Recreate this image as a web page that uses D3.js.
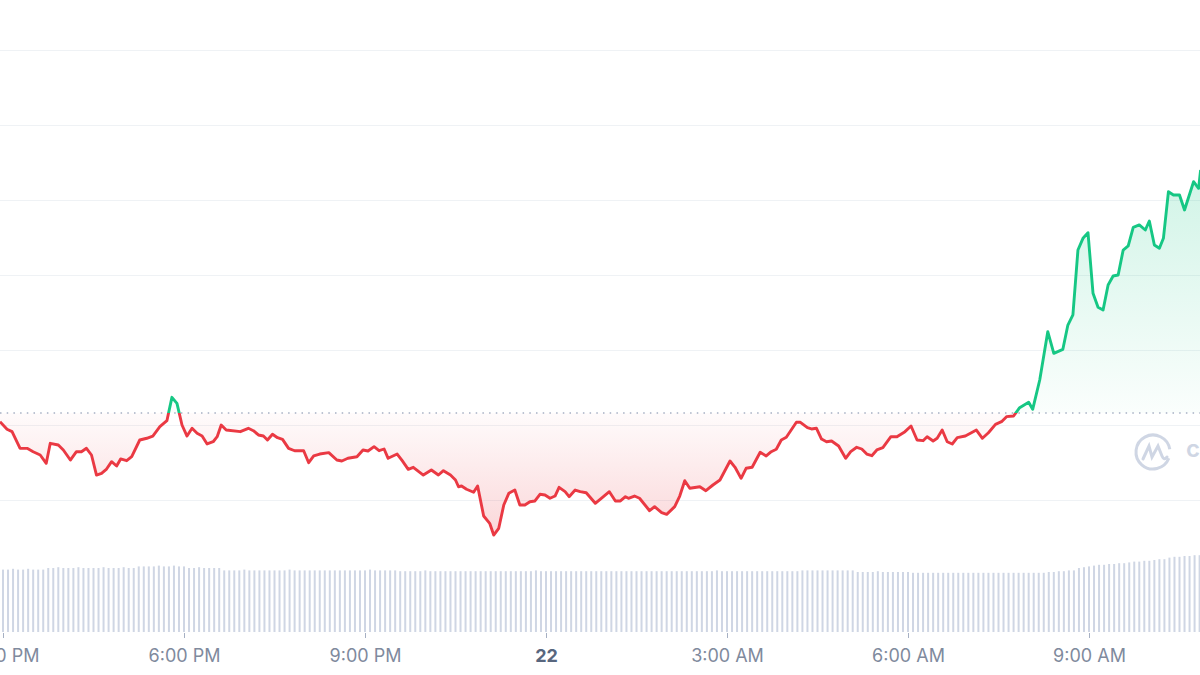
<!DOCTYPE html>
<html>
<head>
<meta charset="utf-8">
<script src="https://cdn.jsdelivr.net/npm/d3@7"></script>
<style>
  body { margin: 0; background: #fff; }
  svg { display: block; font-family: Inter, "Noto Sans", sans-serif; }
</style>
</head>
<body>
<script>
// Minutes after 3:00 PM on the 21st, and the price at that moment
var priceMinutes = [-3, 4, 9, 17, 24, 30, 37, 43, 47, 55, 60, 67, 73, 78, 83, 88, 93, 98, 103, 108,
  113, 117, 123, 128, 136, 143, 149, 156, 163, 168, 173, 178, 183, 188, 193, 198, 203, 209, 213, 217,
  222, 236, 244, 249, 254, 259, 263, 268, 273, 278, 284, 290, 299, 304, 309, 315, 324, 332, 337, 343,
  352, 358, 363, 369, 374, 379, 383, 392, 397, 403, 408, 418, 426, 433, 438, 445, 450, 453, 456, 461,
  468, 472, 478, 484, 488, 493, 498, 503, 509, 514, 519, 524, 529, 534, 539, 544, 549, 553, 559, 563,
  569, 574, 580, 589, 595, 603, 609, 614, 619, 622, 628, 633, 643, 648, 655, 660, 668, 673, 678, 683,
  693, 699, 706, 713, 723, 728, 734, 739, 745, 753, 759, 764, 769, 774, 779, 789, 793, 800, 804, 809,
  814, 819, 824, 831, 838, 843, 849, 854, 859, 864, 869, 875, 883, 889, 897, 903, 909, 915, 919, 925,
  929, 934, 939, 944, 949, 957, 963, 968, 974, 980, 987, 993, 998, 1005, 1011, 1020, 1024, 1031, 1039, 1045,
  1054, 1059, 1064, 1069, 1074, 1079, 1084, 1089, 1094, 1099, 1104, 1109, 1114, 1119, 1124, 1130, 1136, 1140, 1145, 1150,
  1154, 1159, 1164, 1170, 1175, 1184, 1189, 1191];

var prices = [101.044, 100.943, 100.911, 100.689, 100.689, 100.644, 100.600, 100.489, 100.756, 100.733,
  100.667, 100.533, 100.644, 100.644, 100.689, 100.600, 100.333, 100.356, 100.413, 100.511,
  100.453, 100.547, 100.524, 100.577, 100.800, 100.823, 100.853, 100.977, 101.057, 101.369,
  101.289, 101.000, 100.853, 100.956, 100.889, 100.853, 100.747, 100.777, 100.844, 101.000,
  100.933, 100.911, 100.956, 100.924, 100.867, 100.853, 100.800, 100.876, 100.831, 100.809,
  100.689, 100.657, 100.657, 100.497, 100.587, 100.613, 100.631, 100.533, 100.520, 100.556,
  100.577, 100.667, 100.653, 100.711, 100.657, 100.680, 100.556, 100.613, 100.524, 100.409,
  100.436, 100.333, 100.400, 100.333, 100.391, 100.333, 100.267, 100.177, 100.187, 100.143,
  100.103, 100.187, 99.787, 99.689, 99.533, 99.623, 99.933, 100.089, 100.133, 99.933,
  99.933, 99.977, 99.987, 100.076, 100.067, 100.023, 100.053, 100.169, 100.111, 100.044,
  100.133, 100.111, 100.097, 99.956, 100.023, 100.111, 99.987, 99.987, 100.044, 100.023,
  100.053, 100.023, 99.857, 99.911, 99.831, 99.809, 99.911, 100.053, 100.257, 100.156,
  100.177, 100.124, 100.200, 100.267, 100.520, 100.436, 100.289, 100.423, 100.436, 100.636,
  100.587, 100.644, 100.676, 100.800, 100.836, 101.036, 101.036, 100.964, 100.947, 100.956,
  100.813, 100.777, 100.787, 100.720, 100.556, 100.644, 100.703, 100.680, 100.613, 100.591,
  100.667, 100.697, 100.844, 100.844, 100.911, 100.987, 100.800, 100.791, 100.844, 100.787,
  100.823, 100.933, 100.777, 100.747, 100.831, 100.853, 100.897, 100.933, 100.823, 100.897,
  101.009, 101.044, 101.111, 101.120, 101.231, 101.303, 101.209, 101.600, 102.244, 101.956,
  102.009, 102.333, 102.467, 103.333, 103.489, 103.564, 102.756, 102.569, 102.533, 102.867,
  102.987, 103.000, 103.333, 103.387, 103.636, 103.667, 103.600, 103.720, 103.400, 103.356,
  103.489, 104.111, 104.067, 104.067, 103.867, 104.244, 104.156, 104.400];

// opening price, drawn as the dotted reference line
var openPrice = 101.16;

// volume, one bar per 5 minutes from 3:00 PM
var volumeStep = 5;
var volumes = [78, 78, 79, 78, 78, 79, 78, 78, 78, 80,
  80, 81, 80, 80, 80, 81, 80, 80, 80, 80,
  81, 80, 80, 80, 81, 80, 80, 82, 82, 82,
  82, 83, 82, 82, 83, 82, 82, 80, 80, 81,
  80, 80, 80, 80, 77, 77, 77, 77, 78, 77,
  77, 77, 77, 77, 77, 77, 77, 78, 77, 77,
  77, 77, 77, 77, 77, 77, 77, 77, 77, 77,
  77, 77, 77, 78, 77, 77, 77, 77, 77, 76,
  76, 76, 76, 76, 77, 76, 76, 76, 76, 76,
  76, 76, 76, 76, 76, 76, 76, 76, 76, 76,
  76, 76, 76, 76, 76, 76, 77, 76, 76, 76,
  76, 76, 76, 76, 76, 76, 76, 76, 76, 76,
  76, 76, 76, 76, 76, 76, 76, 76, 76, 76,
  76, 76, 76, 76, 76, 76, 76, 76, 76, 76,
  76, 76, 77, 76, 76, 76, 76, 76, 76, 76,
  76, 76, 76, 76, 76, 76, 76, 76, 76, 77,
  77, 77, 77, 77, 77, 77, 77, 77, 77, 77,
  75, 75, 75, 75, 76, 75, 75, 75, 75, 75,
  75, 74, 74, 74, 74, 74, 74, 74, 74, 74,
  74, 74, 74, 74, 74, 74, 74, 74, 74, 74,
  74, 74, 74, 74, 74, 74, 74, 74, 75, 75,
  76, 76, 77, 77, 80, 81, 82, 83, 84, 84,
  85, 85, 86, 86, 87, 88, 88, 89, 89, 90,
  91, 91, 93, 94, 94, 95, 95, 96, 96];

var gridValues = [100, 101, 102, 103, 104, 105, 106];
var tickHours = [15, 18, 21, 24, 27, 30, 33];

var width = 1200, height = 675;
var startTime = new Date(2023, 5, 21, 15, 0);
function atMinute(m) { return new Date(startTime.getTime() + m * 60000); }

var red = "#ea3943", green = "#16c784";

var svg = d3.select("body").append("svg")
  .attr("width", width)
  .attr("height", height);

var x = d3.scaleTime()
  .domain([startTime, atMinute(18 * 60)])
  .range([3, 1089]);

var y = d3.scaleLinear()
  .domain([100, 106])
  .range([500, 50]);

var yVol = d3.scaleLinear()
  .domain([0, 100])
  .range([632, 552]);

var data = priceMinutes.map(function(m, i) {
  return { t: atMinute(m), p: prices[i] };
});
var volData = volumes.map(function(v, i) {
  return { t: atMinute(i * volumeStep), v: v };
});

var yBase = y(openPrice);

// defs: gradients and clips for above / below open price
var defs = svg.append("defs");

var gGreen = defs.append("linearGradient").attr("id", "gradGreen")
  .attr("gradientUnits", "userSpaceOnUse")
  .attr("x1", 0).attr("x2", 0).attr("y1", yBase).attr("y2", y(104.4));
gGreen.append("stop").attr("offset", 0).attr("stop-color", green).attr("stop-opacity", 0.02);
gGreen.append("stop").attr("offset", 1).attr("stop-color", green).attr("stop-opacity", 0.2);

var gRed = defs.append("linearGradient").attr("id", "gradRed")
  .attr("gradientUnits", "userSpaceOnUse")
  .attr("x1", 0).attr("x2", 0).attr("y1", yBase).attr("y2", y(99.53));
gRed.append("stop").attr("offset", 0).attr("stop-color", red).attr("stop-opacity", 0.02);
gRed.append("stop").attr("offset", 1).attr("stop-color", red).attr("stop-opacity", 0.2);

defs.append("clipPath").attr("id", "clipAbove")
  .append("rect").attr("x", 0).attr("y", 0).attr("width", width).attr("height", yBase);
defs.append("clipPath").attr("id", "clipBelow")
  .append("rect").attr("x", 0).attr("y", yBase).attr("width", width).attr("height", height - yBase);

// horizontal gridlines
svg.append("g")
  .selectAll("line")
  .data(gridValues)
  .enter()
  .append("line")
  .attr("x1", 0).attr("x2", width)
  .attr("y1", d => Math.round(y(d)) + 0.5)
  .attr("y2", d => Math.round(y(d)) + 0.5)
  .attr("stroke", "#eff2f5")
  .attr("stroke-width", 1.2);

// volume bars
svg.append("g")
  .selectAll("rect")
  .data(volData)
  .enter()
  .append("rect")
  .attr("x", d => x(d.t) - 1)
  .attr("y", d => yVol(d.v))
  .attr("width", 2)
  .attr("height", d => yVol(0) - yVol(d.v))
  .attr("fill", "#cfd6e4");

// areas between line and open price
var area = d3.area()
  .x(d => x(d.t))
  .y0(yBase)
  .y1(d => y(d.p));

svg.append("path").datum(data)
  .attr("d", area)
  .attr("fill", "url(#gradGreen)")
  .attr("clip-path", "url(#clipAbove)");

svg.append("path").datum(data)
  .attr("d", area)
  .attr("fill", "url(#gradRed)")
  .attr("clip-path", "url(#clipBelow)");

// dotted open price line
svg.append("line")
  .attr("x1", 0).attr("x2", width)
  .attr("y1", yBase).attr("y2", yBase)
  .attr("stroke", "#a6b0c3")
  .attr("stroke-width", 1.3)
  .attr("stroke-dasharray", "1.5,5.2");

// price line, green above open, red below
var line = d3.line()
  .x(d => x(d.t))
  .y(d => y(d.p));

svg.append("path").datum(data)
  .attr("d", line)
  .attr("fill", "none")
  .attr("stroke", green)
  .attr("stroke-width", 2.9)
  .attr("stroke-linejoin", "round")
  .attr("clip-path", "url(#clipAbove)");

svg.append("path").datum(data)
  .attr("d", line)
  .attr("fill", "none")
  .attr("stroke", red)
  .attr("stroke-width", 2.9)
  .attr("stroke-linejoin", "round")
  .attr("clip-path", "url(#clipBelow)");

// watermark logo
var logo = svg.append("g")
  .attr("transform", "translate(1153,452)")
  .attr("fill", "none")
  .attr("stroke", "#cfd6e4")
  .attr("stroke-width", 3)
  .attr("stroke-linecap", "round");
logo.append("path")
  .attr("d", d3.arc()({ innerRadius: 17, outerRadius: 17, startAngle: Math.PI * 0.62, endAngle: Math.PI * 2.45 }));
logo.append("path")
  .attr("d", "M-10,7 L-4,-6 L-1,5 L5,-6 L9,4 Q11,9 14,5");
svg.append("text")
  .attr("x", 1186)
  .attr("y", 457)
  .attr("fill", "#cfd6e4")
  .style("font-size", "24px")
  .style("font-weight", 600)
  .text("coinmarketcap");

// x axis
var fmtDay = d3.timeFormat("%-d"), fmtTime = d3.timeFormat("%-I:%M %p");
var xAxis = d3.axisBottom(x)
  .tickValues(tickHours.map(h => atMinute((h - 15) * 60)))
  .tickSize(5)
  .tickPadding(11)
  .tickFormat(d => d.getHours() === 0 ? fmtDay(d) : fmtTime(d));

var axisG = svg.append("g")
  .attr("transform", "translate(0,633)")
  .call(xAxis);
axisG.select(".domain").remove();
axisG.selectAll(".tick line").attr("stroke", "#a6b0c3");
axisG.selectAll(".tick text")
  .style("font-family", "Inter, sans-serif")
  .style("font-size", "18px")
  .style("font-weight", d => d.getHours() === 0 ? 700 : 400)
  .attr("fill", d => d.getHours() === 0 ? "#58667e" : "#808a9d");
</script>
</body>
</html>
